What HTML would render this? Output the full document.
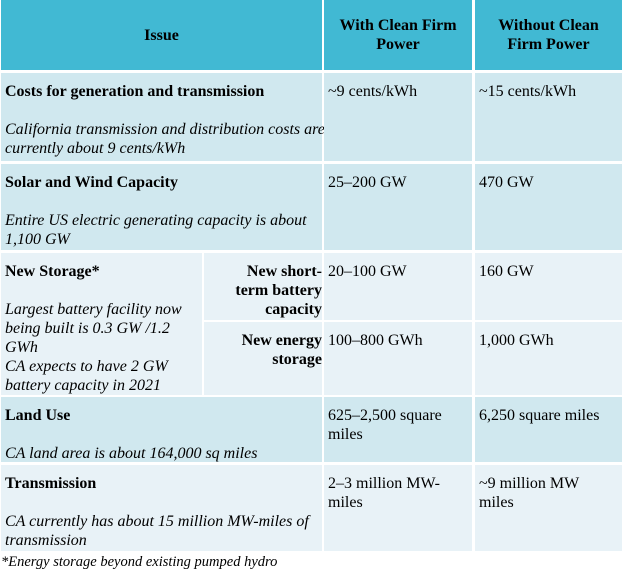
<!DOCTYPE html>
<html><head><style>
body{margin:0;width:624px;height:581px;background:#fff;font-family:"Liberation Serif",serif;font-size:16px;color:#000;position:relative;overflow:hidden}
.c{position:absolute;box-sizing:border-box;padding:9px 4px 0 4px;line-height:19px;white-space:nowrap}
.h{background:#41b9d3;font-weight:bold;text-align:center;display:flex;align-items:center;justify-content:center;padding:0 6px}
.a{background:#d0e8ef}
.b{background:#e8f2f7}
i{font-style:italic}
</style></head><body>
<div class="c h" style="left:1px;top:0;width:321px;height:70px">Issue</div>
<div class="c h" style="left:324px;top:0;width:148px;height:70px">With Clean Firm<br>Power</div>
<div class="c h" style="left:475px;top:0;width:147px;height:70px">Without Clean<br>Firm Power</div>

<div class="c a" style="left:1px;top:73px;width:321px;height:88px"><b>Costs for generation and transmission</b><br><br><i>California transmission and distribution costs are<br>currently about 9 cents/kWh</i></div>
<div class="c a" style="left:324px;top:73px;width:148px;height:88px">~9 cents/kWh</div>
<div class="c a" style="left:475px;top:73px;width:147px;height:88px">~15 cents/kWh</div>

<div class="c a" style="left:1px;top:164px;width:321px;height:86px"><b>Solar and Wind Capacity</b><br><br><i>Entire US electric generating capacity is about<br>1,100 GW</i></div>
<div class="c a" style="left:324px;top:164px;width:148px;height:86px">25–200 GW</div>
<div class="c a" style="left:475px;top:164px;width:147px;height:86px">470 GW</div>

<div class="c b" style="left:1px;top:253px;width:201px;height:142px"><b>New Storage*</b><br><br><i>Largest battery facility now<br>being built is 0.3 GW /1.2<br>GWh<br>CA expects to have 2 GW<br>battery capacity in 2021</i></div>
<div class="c b" style="left:204px;top:253px;width:118px;height:67px;text-align:right;padding-right:0"><b>New short-<br>term battery<br>capacity</b></div>
<div class="c b" style="left:324px;top:253px;width:148px;height:67px">20–100 GW</div>
<div class="c b" style="left:475px;top:253px;width:147px;height:67px">160 GW</div>
<div class="c b" style="left:204px;top:322px;width:118px;height:73px;text-align:right;padding-right:0"><b>New energy<br>storage</b></div>
<div class="c b" style="left:324px;top:322px;width:148px;height:73px">100–800 GWh</div>
<div class="c b" style="left:475px;top:322px;width:147px;height:73px">1,000 GWh</div>

<div class="c a" style="left:1px;top:397px;width:321px;height:65px"><b>Land Use</b><br><br><i>CA land area is about 164,000 sq miles</i></div>
<div class="c a" style="left:324px;top:397px;width:148px;height:65px">625–2,500 square<br>miles</div>
<div class="c a" style="left:475px;top:397px;width:147px;height:65px">6,250 square miles</div>

<div class="c b" style="left:1px;top:465px;width:321px;height:86px"><b>Transmission</b><br><br><i>CA currently has about 15 million MW-miles of<br>transmission</i></div>
<div class="c b" style="left:324px;top:465px;width:148px;height:86px">2–3 million MW-<br>miles</div>
<div class="c b" style="left:475px;top:465px;width:147px;height:86px">~9 million MW<br>miles</div>

<div style="position:absolute;left:1px;top:554px;font-size:14.5px;font-style:italic;white-space:nowrap">*Energy storage beyond existing pumped hydro</div>
</body></html>
